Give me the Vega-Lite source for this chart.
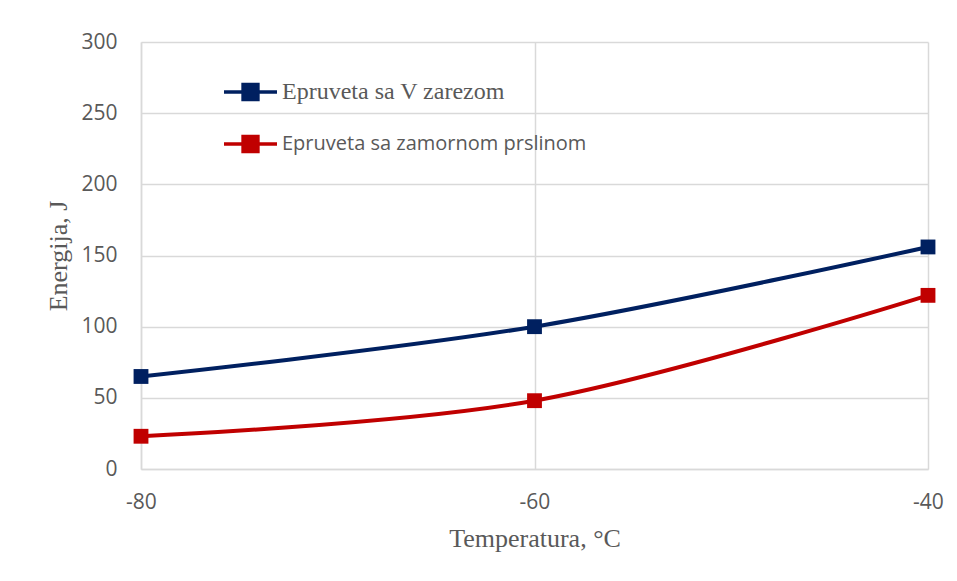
{
  "$schema": "https://vega.github.io/schema/vega-lite/v6.json",
  "width": 787,
  "height": 427,
  "autosize": {"type": "none"},
  "padding": {"left": 141, "top": 42, "right": 29, "bottom": 112},
  "background": "white",
  "config": {
    "view": {"stroke": null},
    "axis": {
      "gridColor": "#d9d9d9",
      "gridWidth": 1.5,
      "domainColor": "#d9d9d9",
      "domainWidth": 1.5,
      "ticks": false,
      "labelFont": "Open Sans",
      "labelFontSize": 21,
      "labelColor": "#595959",
      "titleFont": "Liberation Serif",
      "titleFontSize": 26,
      "titleFontWeight": "normal",
      "titleColor": "#595959"
    }
  },
  "data": {
    "values": [
      {"series": "Epruveta sa V zarezom", "temp": -80, "energy": 65},
      {"series": "Epruveta sa V zarezom", "temp": -60, "energy": 100},
      {"series": "Epruveta sa V zarezom", "temp": -40, "energy": 156},
      {"series": "Epruveta sa zamornom prslinom", "temp": -80, "energy": 23},
      {"series": "Epruveta sa zamornom prslinom", "temp": -60, "energy": 48},
      {"series": "Epruveta sa zamornom prslinom", "temp": -40, "energy": 122}
    ]
  },
  "encoding": {
    "x": {
      "field": "temp",
      "type": "quantitative",
      "scale": {"domain": [-80, -40], "nice": false, "zero": false},
      "axis": {
        "values": [-80, -60, -40],
        "labelExpr": "toString(datum.value)",
        "title": "Temperatura, °C",
        "labelPadding": 22,
        "titlePadding": 13,
        "labelFlush": false
      }
    },
    "y": {
      "field": "energy",
      "type": "quantitative",
      "scale": {"domain": [0, 300], "nice": false},
      "axis": {
        "values": [0, 50, 100, 150, 200, 250, 300],
        "title": "Energija, J",
        "labelPadding": 24,
        "titlePadding": 9
      }
    },
    "color": {
      "field": "series",
      "type": "nominal",
      "scale": {
        "domain": ["Epruveta sa V zarezom", "Epruveta sa zamornom prslinom"],
        "range": ["#002060", "#C00000"]
      },
      "legend": {
        "title": null,
        "orient": "none",
        "legendX": 81,
        "legendY": 40,
        "padding": 0,
        "symbolType": "M-1,0L1,0M-0.28,-0.28L0.28,-0.28L0.28,0.28L-0.28,0.28Z",
        "symbolSize": 2809,
        "symbolStrokeWidth": 3.5,
        "symbolFillColor": "transparent",
        "clipHeight": 20,
        "rowPadding": 30,
        "labelOffset": 3,
        "labelLimit": 600,
        "labelFontSize": 22,
        "labelColor": "#595959",
        "encode": {
          "labels": {
            "update": {
              "font": {"signal": "datum.value == 'Epruveta sa V zarezom' ? 'Liberation Serif' : 'Open Sans'"},
              "fontSize": {"signal": "datum.value == 'Epruveta sa V zarezom' ? 24 : 20"}
            }
          },
          "symbols": {
            "update": {
              "fill": {"signal": "datum.value == 'Epruveta sa V zarezom' ? '#002060' : '#C00000'"}
            }
          }
        }
      }
    }
  },
  "layer": [
    {
      "mark": {"type": "line", "interpolate": "cardinal", "tension": 0, "strokeWidth": 4}
    },
    {
      "mark": {"type": "point", "shape": "square", "filled": true, "size": 220, "opacity": 1}
    }
  ]
}
